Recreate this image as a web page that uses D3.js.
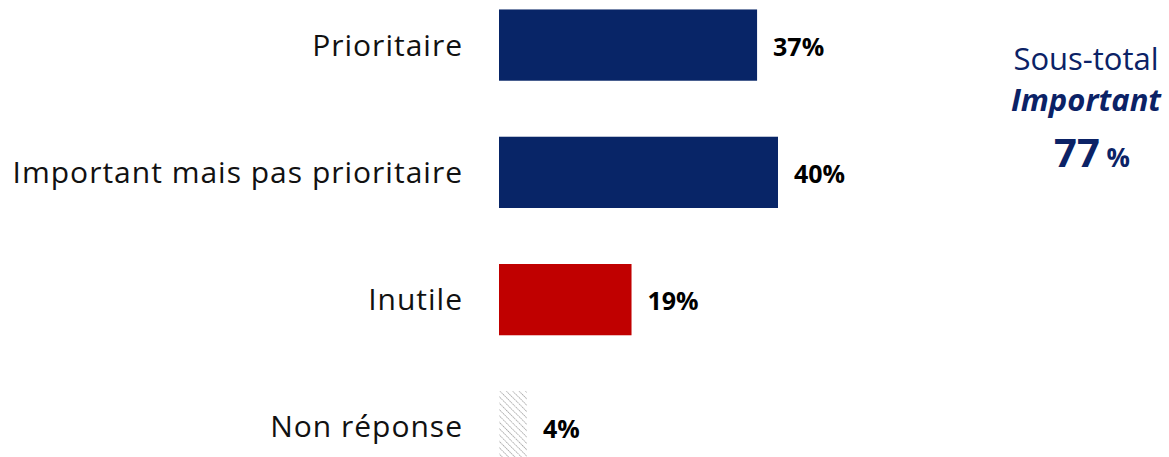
<!DOCTYPE html>
<html>
<head>
<meta charset="utf-8">
<script src="https://cdn.jsdelivr.net/npm/d3@7"></script>
<style>
  body { margin: 0; background: #fff; }
  text { font-family: "Open Sans", "Noto Sans", sans-serif; }
</style>
</head>
<body>
<div id="chart"></div>
<script>
// data
const categories = ["Prioritaire", "Important mais pas prioritaire", "Inutile", "Non réponse"];
const values = [37, 40, 19, 4];
const valueLabels = ["37%", "40%", "19%", "4%"];
const barColors = ["#082567", "#082567", "#c00000", "url(#hatch)"];
const subtotalLines = ["Sous-total", "Important", "77"];

const width = 1169, height = 457;

const svg = d3.select("#chart").append("svg")
  .attr("width", width)
  .attr("height", height);

// hatch pattern for non réponse
const defs = svg.append("defs");
const pat = defs.append("pattern")
  .attr("id", "hatch")
  .attr("patternUnits", "userSpaceOnUse")
  .attr("width", 4.5).attr("height", 4.5)
  .attr("patternTransform", "rotate(-45)");
pat.append("line")
  .attr("x1", 0).attr("y1", 0).attr("x2", 0).attr("y2", 4.5)
  .attr("stroke", "#8a8a8a").attr("stroke-width", 1.3)
  .attr("stroke-dasharray", "1.5,0.8");

const x = d3.scaleLinear().domain([0, 40]).range([499, 778]);
const y = d3.scaleBand().domain(categories).range([-16, 488]).paddingInner(0.44).paddingOuter(0.2);

svg.append("g").selectAll("rect")
  .data(categories)
  .enter()
  .append("rect")
    .attr("x", x(0))
    .attr("y", d => y(d))
    .attr("width", (d, i) => x(values[i]) - x(0))
    .attr("height", y.bandwidth())
    .attr("fill", (d, i) => barColors[i]);

// category labels
svg.append("g").selectAll("text")
  .data(categories)
  .enter()
  .append("text")
    .attr("x", 463)
    .attr("y", d => y(d) + y.bandwidth() / 2)
    .attr("dy", "0.35em")
    .attr("text-anchor", "end")
    .style("font-size", "30px")
    .style("letter-spacing", "1px")
    .style("fill", "#111")
    .text(d => d);

// value labels
svg.append("g").selectAll("text")
  .data(categories)
  .enter()
  .append("text")
    .attr("x", (d, i) => x(values[i]) + 16)
    .attr("y", d => y(d) + y.bandwidth() / 2 + 2)
    .attr("dy", "0.35em")
    .style("font-size", "25px")
    .style("font-weight", "bold")
    .style("fill", "#000")
    .text((d, i) => valueLabels[i]);

// sous-total
const navy = "#0b2266";
const st = svg.append("g").attr("text-anchor", "middle").style("fill", navy);
st.append("text").attr("x", 1086).attr("y", 70)
  .style("font-size", "31px").text(subtotalLines[0]);
st.append("text").attr("x", 1086).attr("y", 111)
  .style("font-size", "31px").style("font-weight", "bold").style("font-style", "italic")
  .text(subtotalLines[1]);
const t3 = st.append("text").attr("x", 1092).attr("y", 167).style("font-weight", "bold");
t3.append("tspan").style("font-size", "40px").text(subtotalLines[2]);
t3.append("tspan").style("font-size", "26px").text(" %");
</script>
</body>
</html>
